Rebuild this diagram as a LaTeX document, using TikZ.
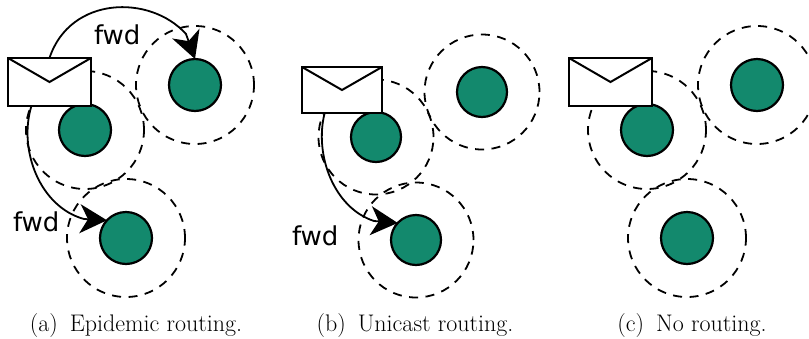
\documentclass[tikz,border=0pt]{standalone}
\usepackage{fontspec}
\newfontfamily\fwdfont{DejaVu Sans}
\newfontfamily\capfont{Latin Modern Roman}
\usetikzlibrary{arrows.meta}
\definecolor{nodegreen}{HTML}{13896D}
\tikzset{
  x=1pt,y=-1pt,
  every node/.style={inner sep=0pt,outer sep=0pt},
  rangea/.style={circle,draw=black,line width=1.8pt,dash pattern=on 9pt off 7.5pt,minimum size=118pt},
  rangeb/.style={rangea,minimum size=115pt},
  nodea/.style={circle,draw=black,fill=nodegreen,line width=2.2pt,minimum size=52pt},
  nodeb/.style={nodea,minimum size=50pt},
  enva/.style={rectangle,draw=black,fill=white,line width=2.5pt,minimum width=83pt,minimum height=48pt},
  envb/.style={enva,minimum width=80pt,minimum height=46pt},
  flap/.style={draw=black,line width=2pt,line join=miter},
  fwdarrow/.style={draw=black,line width=1.8pt,-{Stealth[length=27pt,width=29pt,inset=8pt]}},
  fwdlabel/.style={font=\fwdfont\fontsize{26}{30}\selectfont,anchor=base west},
  capt/.style={font=\capfont\fontsize{24}{28}\selectfont,text=black,anchor=base}
}
\begin{document}
\begin{tikzpicture}
\useasboundingbox (0,0) rectangle (809,338);
% panel a
\node[rangea] (ra1) at (85,130) {};
\node[rangea] (ra2) at (195,85) {};
\node[rangea] (ra3) at (126,238) {};
\node[nodea] (na1) at (85,130) {};
\node[nodea] (na2) at (195,85) {};
\node[nodea] (na3) at (126,238) {};
\node[enva] (ea) at (49.5,82) {};
\draw[flap] (ea.north west) -- (ea.center) -- (ea.north east);
\coordinate (ha2) at (186,34);
\coordinate (ha3) at (84,219);
\draw[fwdarrow] (ea.north) .. controls (70,-4) and (150,-6) .. (ha2) -- (na2.north);
\draw[fwdarrow] (ea.233) .. controls (18,150) and (40,207) .. (ha3) -- (na3.137);
\node[fwdlabel] (la1) at (94,44) {fwd};
\node[fwdlabel] (la2) at (13,231) {fwd};
\node[capt] (ca) at (136,331) {(a)\hspace{.5em}Epidemic routing.};
% panel b
\node[rangeb] (rb1) at (376,137) {};
\node[rangeb] (rb2) at (482,92) {};
\node[rangeb] (rb3) at (416,240) {};
\node[nodeb] (nb1) at (376,137) {};
\node[nodeb] (nb2) at (482,92) {};
\node[nodeb] (nb3) at (416,240) {};
\node[envb] (eb) at (342,90) {};
\draw[flap] (eb.north west) -- (eb.center) -- (eb.north east);
\coordinate (hb3) at (374,221);
\draw[fwdarrow] (eb.233.5) .. controls (314,155) and (334,208) .. (hb3) -- (nb3.137);
\node[fwdlabel] (lb) at (292,245) {fwd};
\node[capt] (cb) at (415,331) {(b)\hspace{.5em}Unicast routing.};
% panel c
\node[rangea] (rc1) at (647,130) {};
\node[rangea] (rc2) at (757,85) {};
\node[rangea] (rc3) at (687,238) {};
\node[nodea] (nc1) at (647,130) {};
\node[nodea] (nc2) at (757,85) {};
\node[nodea] (nc3) at (687,238) {};
\node[enva] (ec) at (610.5,82) {};
\draw[flap] (ec.north west) -- (ec.center) -- (ec.north east);
\node[capt] (cc) at (692,331) {(c)\hspace{.5em}No routing.};
\end{tikzpicture}
\end{document}
